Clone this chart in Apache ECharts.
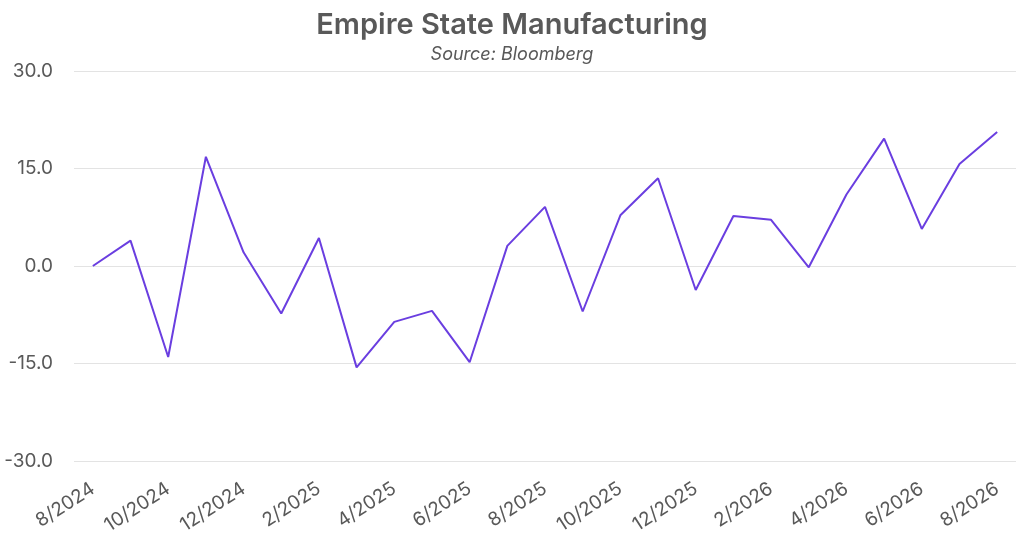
<!DOCTYPE html>
<html>
<head>
<meta charset="utf-8">
<script src="https://cdn.jsdelivr.net/npm/echarts@6/dist/echarts.min.js"></script>
<style>
html,body{margin:0;padding:0;background:#fff;}
#chart{width:1024px;height:545px;}
</style>
</head>
<body>
<div id="chart"></div>
<script>
var categories = ["8/2024","9/2024","10/2024","11/2024","12/2024","1/2025","2/2025","3/2025","4/2025","5/2025","6/2025","7/2025","8/2025","9/2025","10/2025","11/2025","12/2025","1/2026","2/2026","3/2026","4/2026","5/2026","6/2026","7/2026","8/2026"];
var values = [0.0, 3.9, -14.0, 16.8, 2.1, -7.3, 4.3, -15.6, -8.6, -6.9, -14.8, 3.1, 9.1, -7.0, 7.8, 13.5, -3.7, 7.7, 7.1, -0.2, 11.0, 19.6, 5.7, 15.7, 20.6];
var titleText = "Empire State Manufacturing";
var subtitleText = "Source: Bloomberg";

var chart = echarts.init(document.getElementById('chart'));
chart.setOption({
  backgroundColor: '#fff',
  animation: false,
  title: {
    text: titleText,
    subtext: subtitleText,
    left: 'center',
    top: 6,
    itemGap: 6,
    textStyle: {fontFamily: 'Inter', fontWeight: 600, fontSize: 29, color: '#595959'},
    subtextStyle: {fontFamily: 'Inter', fontStyle: 'italic', fontSize: 18, color: '#595959'}
  },
  grid: {left: 74, right: 8, top: 71, bottom: 84, containLabel: false},
  xAxis: {
    type: 'category',
    data: categories,
    boundaryGap: true,
    axisLine: {show: false},
    axisTick: {show: false},
    axisLabel: {
      interval: 1,
      rotate: 33,
      fontFamily: 'Inter',
      fontSize: 19,
      color: '#595959',
      margin: 26
    },
    splitLine: {show: false}
  },
  yAxis: {
    type: 'value',
    min: -30,
    max: 30,
    interval: 15,
    axisLine: {show: false},
    axisTick: {show: false},
    axisLabel: {
      fontFamily: 'Inter',
      fontSize: 19,
      color: '#595959',
      margin: 21,
      formatter: function (v) { return v.toFixed(1); }
    },
    splitLine: {lineStyle: {color: '#e3e3e3', width: 1}}
  },
  series: [{
    type: 'line',
    data: values,
    symbol: 'none',
    lineStyle: {color: '#6a3ee0', width: 2},
    itemStyle: {color: '#6a3ee0'}
  }]
});
</script>
</body>
</html>
